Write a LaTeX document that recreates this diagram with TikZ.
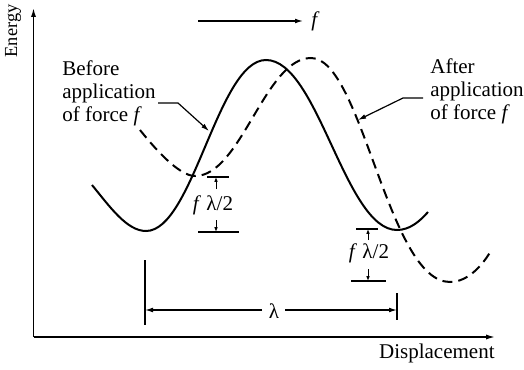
\documentclass[tikz,border=0pt]{standalone}
\usepackage{fontspec}
\setmainfont{Liberation Serif}
\usetikzlibrary{arrows.meta,positioning}

\begin{document}
\begin{tikzpicture}[
  x=0.5pt, y=-0.5pt,
  font=\fontsize{10.5}{11.5}\selectfont,
  txt/.style={inner sep=0pt, align=left},
  axis/.style={-{Latex[length=4.5pt,width=2.6pt]}, line width=0.75pt},
  arr/.style={-{Latex[length=4pt,width=2.4pt]}, line width=0.6pt},
  dimtip/.style={-{Latex[length=2.4pt,width=1.8pt]}, line width=0.5pt},
  bar/.style={line width=0.65pt},
  curve/.style={line width=1pt},
  shifted/.style={curve, dash pattern=on 5pt off 3pt}
]
\useasboundingbox (0,0) rectangle (524,369);
\coordinate (origin) at (33.5,337);
\coordinate (ytop) at (33.5,8);
\coordinate (xend) at (495,337);
\draw[axis] (origin) -- (ytop);
\draw[axis] (origin) -- (xend);
\node[rotate=90, inner sep=0pt, font=\fontsize{9.2}{11}\selectfont] (energy) at (13,31) {Energy};
\node[anchor=base east, inner sep=0pt] (disp) at (495,358) {Displacement};

\draw[curve] (92,185) .. controls (110,207) and (127,231) .. (146,231)
  .. controls (193,231) and (218,60) .. (266,60)
  .. controls (318,60) and (345,230) .. (397,230)
  .. controls (410,230) and (420,221) .. (428,212);
\draw[shifted] (140,130) .. controls (152,145) and (178,176) .. (195,176)
  .. controls (241,176) and (265,58) .. (311,58)
  .. controls (362,58) and (388,282) .. (450,282)
  .. controls (468,282) and (483,265) .. (492,249);

\coordinate (fstart) at (198,21);
\node[anchor=west, inner sep=0pt] (force) at (311,21) {\textit{f}};
\draw[arr] (fstart) -- ([xshift=-4pt]force.west);

\node[txt, anchor=north west] (before) at (62,60) {Before\\application\\of force \textit{f}};
\coordinate (beforebend) at (178,103);
\coordinate (beforetip) at (209,131);
\draw[arr] (158,103) -- (beforebend) -- (beforetip);

\node[txt, anchor=north west] (after) at (430,58) {After\\application\\of force \textit{f}};
\coordinate (afterbend) at (403,98);
\coordinate (aftertip) at (358,120);
\draw[arr] (423,98) -- (afterbend) -- (aftertip);

\node (gapL) at (213,205) {\textit{f} λ/2};
\coordinate (gapLtop) at (216,177);
\coordinate (gapLbot) at (216,232);
\draw[bar] (207,177) -- (229,177);
\draw[bar] (198,232) -- (239,232);
\draw[dimtip] (216,189) -- (gapLtop);
\draw[dimtip] (216,220) -- (gapLbot);

\node (gapR) at (369,253) {\textit{f} λ/2};
\coordinate (gapRtop) at (368,229);
\coordinate (gapRbot) at (368,281);
\draw[bar] (356,229) -- (378,229);
\draw[bar] (351,281) -- (386,281);
\draw[dimtip] (368,240) -- (gapRtop);
\draw[dimtip] (368,269) -- (gapRbot);

\coordinate (lamL) at (145,310);
\coordinate (lamR) at (397,310);
\draw[bar] (145,260) -- (145,325);
\draw[bar] (397,293) -- (397,320);
\node[inner sep=0pt] (lam) at (274,311) {λ};
\draw[arr] (262,310) -- (lamL);
\draw[arr] (285,310) -- (lamR);
\end{tikzpicture}
\end{document}
